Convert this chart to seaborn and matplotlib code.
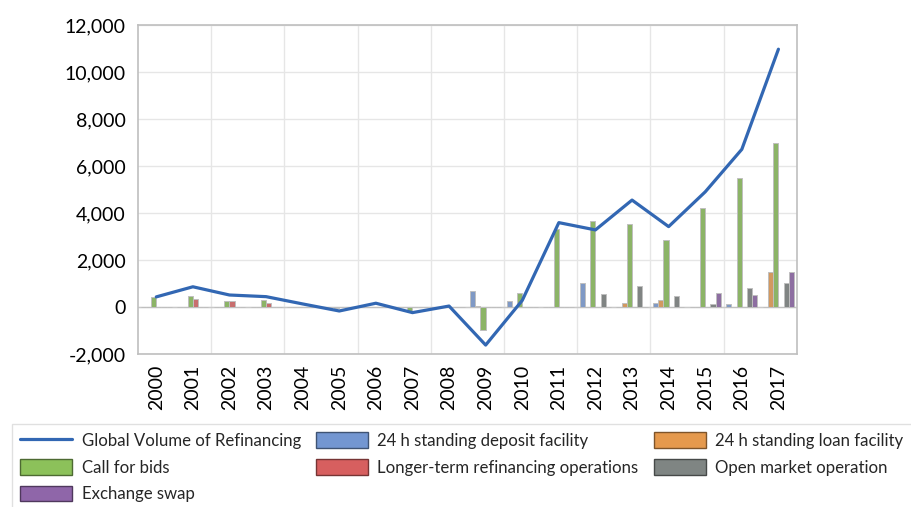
import matplotlib
matplotlib.use("Agg")

import numpy as np
import pandas as pd
import matplotlib.pyplot as plt
import matplotlib.ticker as mticker
from matplotlib.patches import Patch
from matplotlib.lines import Line2D
import seaborn as sns

years = [str(y) for y in range(2000, 2018)]

total_volume = [430, 860, 510, 440, 130, -170, 160, -240, 40, -1620,
                280, 3590, 3280, 4550, 3420, 4900, 6710, 10970]

deposit_facility = [0, 0, 0, 0, 0, 0, 0, 0, 0, 690,
                    270, 0, 1010, 0, 180, 20, 110, 0]
loan_facility = [0, 0, 0, 0, 0, 0, 0, 0, 0, 50,
                 0, 0, 0, 150, 285, 0, 0, 1480]
call_for_bids = [430, 460, 255, 300, 0, -60, 0, -170, 0, -980,
                 580, 3300, 3670, 3520, 2850, 4200, 5480, 6990]
longer_term = [0, 340, 255, 170, 0, 0, 0, 0, 0, 0,
               0, 0, 0, 0, 0, 0, 0, 0]
open_market = [0, 0, 0, 0, 0, 0, 0, 0, 0, 0,
               0, 0, 550, 890, 480, 120, 800, 1000]
exchange_swap = [0, 0, 0, 0, 0, 0, 0, 0, 0, 0,
                 0, 0, 0, 0, 0, 600, 510, 1490]

series_names = ["24 h standing deposit facility", "24 h standing loan facility",
                "Call for bids", "Longer-term refinancing operations",
                "Open market operation", "Exchange swap"]
series_values = [deposit_facility, loan_facility, call_for_bids,
                 longer_term, open_market, exchange_swap]
series_colors = ["#7396D1", "#E5994D", "#8CC15A", "#D75F5F", "#7F8583", "#8F66A9"]
line_name = "Global Volume of Refinancing"
line_color = "#3267B3"

rows = []
for name, vals in zip(series_names, series_values):
    for y, v in zip(years, vals):
        rows.append({"year": y, "series": name, "value": v})
df = pd.DataFrame(rows)

sns.set_style("white")
plt.rcParams["font.family"] = ["Lato", "DejaVu Sans"]
plt.rcParams["axes.unicode_minus"] = False

fig = plt.figure(figsize=(9.12, 5.07), dpi=100)
ax = fig.add_axes([0.1513, 0.3018, 0.7223, 0.6489])

sns.barplot(data=df, x="year", y="value", hue="series", order=years,
            hue_order=series_names, palette=series_colors, width=0.85,
            edgecolor="#BFBFBF", linewidth=0.7, ax=ax, legend=False, zorder=3)
sns.lineplot(x=np.arange(len(years)), y=total_volume, color=line_color,
             linewidth=2.3, ax=ax, zorder=4)

ax.set_xlim(-0.5, len(years) - 0.5)
ax.set_ylim(-2000, 12000)
ax.yaxis.set_major_locator(mticker.MultipleLocator(2000))
ax.yaxis.set_major_formatter(mticker.StrMethodFormatter("{x:,.0f}"))
ax.set_xticks(np.arange(len(years)))
ax.set_xticklabels(years, rotation=90)
ax.tick_params(axis="both", length=0, labelsize=14, colors="#000000")
ax.tick_params(axis="y", pad=9)
ax.tick_params(axis="x", pad=8)
ax.set_xlabel("")
ax.set_ylabel("")

# gridlines: every 2000 on y, every second category boundary on x
for yv in range(-2000, 12001, 2000):
    ax.axhline(yv, color="#E6E6E6", linewidth=1.0, zorder=0)
for xv in np.arange(1.5, len(years) - 1, 2):
    ax.axvline(xv, color="#E6E6E6", linewidth=1.0, zorder=0)
ax.axhline(0, color="#C8C8C8", linewidth=1.0, zorder=2)
for sp in ax.spines.values():
    sp.set_color("#BFBFBF")
    sp.set_linewidth(1.2)

def darker(c, f=0.55):
    r, g, b = matplotlib.colors.to_rgb(c)
    return (r * f, g * f, b * f)

h = {line_name: Line2D([0], [0], color=line_color, linewidth=2.3)}
for name, col in zip(series_names, series_colors):
    h[name] = Patch(facecolor=col, edgecolor=darker(col), linewidth=1.0)
order = [line_name, "Call for bids", "Exchange swap",
         "24 h standing deposit facility", "Longer-term refinancing operations",
         "24 h standing loan facility", "Open market operation"]
leg = fig.legend([h[k] for k in order], order, loc="upper left",
                 bbox_to_anchor=(12 / 912, 1 - 424 / 507), ncol=3,
                 fontsize=12.1, frameon=True, fancybox=False,
                 handlelength=3.1, handleheight=1.05, handletextpad=0.55,
                 columnspacing=0.9, labelspacing=0.6, borderpad=0.5,
                 borderaxespad=0)
leg.get_frame().set_edgecolor("#D9D9D9")
leg.get_frame().set_linewidth(1.0)

plt.savefig("out.png", dpi=100)
plt.close()
